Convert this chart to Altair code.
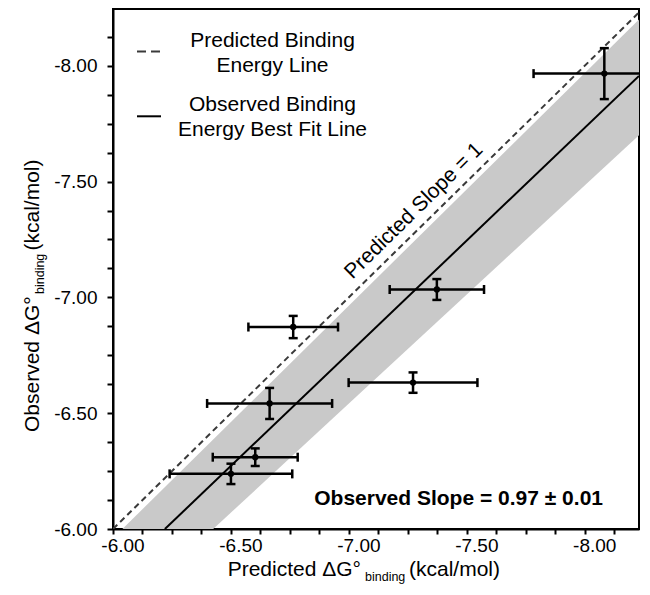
import altair as alt
import pandas as pd

# ---- data ----
pred = [-6.500, -6.603, -6.664, -6.764, -7.272, -7.373, -8.083]
obs = [-6.238, -6.310, -6.542, -6.872, -6.632, -7.034, -7.966]
pred_err = [0.26, 0.18, 0.265, 0.19, 0.273, 0.20, 0.30]
obs_err = [0.044, 0.038, 0.067, 0.048, 0.044, 0.045, 0.11]

ideal_x = [-6.0, -8.245]
ideal_y = [-6.0, -8.245]
fit_x = [-6.22, -8.23]
fit_y = [-6.00, -7.956]
band_x = [-6.0, -8.23]
band_upper = [-5.96, -8.20]
band_lower = [-5.60, -7.70]

tick_values = [-6.0, -6.125, -6.25, -6.375, -6.5, -6.625, -6.75, -6.875,
               -7.0, -7.125, -7.25, -7.375, -7.5, -7.625, -7.75, -7.875,
               -8.0, -8.125]

slope_label = "Predicted Slope = 1"
slope_label_x = [-7.276]
slope_label_y = [-7.373]
obs_slope_text = "Observed Slope = 0.97 \u00b1 0.01"

FONT = "Liberation Sans"

pts = pd.DataFrame({"pred": pred, "obs": obs, "pe": pred_err, "oe": obs_err})
pts["xlo"] = pts["pred"] + pts["pe"]
pts["xhi"] = pts["pred"] - pts["pe"]
pts["ylo"] = pts["obs"] + pts["oe"]
pts["yhi"] = pts["obs"] - pts["oe"]

ideal = pd.DataFrame({"x": ideal_x, "y": ideal_y})
fit = pd.DataFrame({"x": fit_x, "y": fit_y})
band = pd.DataFrame({"x": band_x, "yu": band_upper, "yl": band_lower})
lab = pd.DataFrame({"x": slope_label_x, "y": slope_label_y, "t": [slope_label]})
dummy = pd.DataFrame({"d": [0]})

xs = alt.Scale(domain=[-8.23, -6.0], reverse=True, nice=False, zero=False)
ys = alt.Scale(domain=[-8.245, -6.0], reverse=True, nice=False, zero=False)

label_expr = ("abs(datum.value*2 - round(datum.value*2)) < 0.001 ? "
              "'-' + format(abs(datum.value), '.2f') : ''")

x_axis = alt.Axis(values=tick_values, labelExpr=label_expr, title=None, grid=False,
                  tickSize=5, tickWidth=2, tickColor="black", domainColor="black",
                  domainWidth=2, labelFont=FONT, labelFontSize=19, labelColor="black",
                  labelPadding=2, labelOffset=9.5, labelFlush=False, labelOverlap=False)
y_axis = alt.Axis(values=tick_values, labelExpr=label_expr, title=None, grid=False,
                  tickSize=6, tickWidth=2, tickColor="black", domainColor="black",
                  domainWidth=2, labelFont=FONT, labelFontSize=19, labelColor="black",
                  labelPadding=10, labelFlush=False, labelOverlap=False)


def X(f):
    return alt.X(f, type="quantitative", scale=xs, axis=x_axis)


def Y(f):
    return alt.Y(f, type="quantitative", scale=ys, axis=y_axis)


band_layer = alt.Chart(band).mark_area(color="#c9c9c9", clip=True).encode(
    x=X("x"), y=Y("yu"), y2="yl")

ideal_layer = alt.Chart(ideal).mark_line(color="#3a3a3a", strokeWidth=2,
                                         strokeDash=[6, 4], clip=True).encode(
    x=X("x"), y=Y("y"))

fit_layer = alt.Chart(fit).mark_line(color="black", strokeWidth=2, clip=True).encode(
    x=X("x"), y=Y("y"))

xerr = alt.Chart(pts).mark_rule(color="black", strokeWidth=2.5, clip=True).encode(
    x=X("xlo"), x2="xhi", y=Y("obs"))
yerr = alt.Chart(pts).mark_rule(color="black", strokeWidth=2.5, clip=True).encode(
    x=X("pred"), y=Y("ylo"), y2="yhi")
cap_xlo = alt.Chart(pts).mark_tick(orient="vertical", size=9, thickness=2.5,
                                   color="black", opacity=1, clip=True).encode(
    x=X("xlo"), y=Y("obs"))
cap_xhi = alt.Chart(pts).mark_tick(orient="vertical", size=9, thickness=2.5,
                                   color="black", opacity=1, clip=True).encode(
    x=X("xhi"), y=Y("obs"))
cap_ylo = alt.Chart(pts).mark_tick(orient="horizontal", size=9, thickness=2.5,
                                   color="black", opacity=1, clip=True).encode(
    x=X("pred"), y=Y("ylo"))
cap_yhi = alt.Chart(pts).mark_tick(orient="horizontal", size=9, thickness=2.5,
                                   color="black", opacity=1, clip=True).encode(
    x=X("pred"), y=Y("yhi"))
points = alt.Chart(pts).mark_point(filled=True, size=40, color="black", opacity=1).encode(
    x=X("pred"), y=Y("obs"))

slope_text = alt.Chart(lab).mark_text(angle=315.5, fontSize=21, font=FONT, color="black",
                                      align="center", baseline="middle").encode(
    x=X("x"), y=Y("y"), text="t:N")


def vtext(s, x, y, size, align="center", baseline="alphabetic", angle=0, weight="normal"):
    kw = dict(fontSize=size, font=FONT, color="black", align=align, baseline=baseline,
              fontWeight=weight)
    if angle:
        kw["angle"] = angle
    return alt.Chart(dummy).mark_text(**kw).encode(
        x=alt.value(x), y=alt.value(y), text=alt.value(s))


def vrule(x1, x2, y, dash=None):
    kw = dict(color="black", strokeWidth=2)
    if dash:
        kw["strokeDash"] = dash
        kw["color"] = "#3a3a3a"
    return alt.Chart(dummy).mark_rule(**kw).encode(
        x=alt.value(x1), x2=alt.value(x2), y=alt.value(y))


legend = [
    vrule(24, 48, 42.5, dash=[9, 5]),
    vrule(24, 48, 107.3),
    vtext("Predicted Binding", 159.5, 37.6, 21),
    vtext("Energy Line", 159.5, 63.4, 21),
    vtext("Observed Binding", 159.5, 101.6, 21),
    vtext("Energy Best Fit Line", 159.5, 126.5, 21),
    vtext(obs_slope_text, 490, 495.5, 21, align="right", weight="bold"),
]

titles = [
    vtext("Predicted \u0394G\u00b0", 248, 567, 21, align="right"),
    vtext("binding", 252, 572, 12.5, align="left"),
    vtext("(kcal/mol)", 296, 567, 21, align="left"),
    vtext("Observed \u0394G\u00b0", -74, 423, 21, align="left", angle=270),
    vtext("binding", -69, 285, 12.5, align="left", angle=270),
    vtext("(kcal/mol)", -74, 241.5, 21, align="left", angle=270),
]

chart = alt.layer(
    band_layer, ideal_layer, fit_layer, xerr, yerr, cap_xlo, cap_xhi, cap_ylo, cap_yhi,
    points, slope_text, *legend, *titles
).properties(
    width=526, height=520,
    padding={"left": 105, "top": 1, "right": 1, "bottom": 57},
    autosize=alt.AutoSizeParams(type="none"),
).configure_view(stroke="black", strokeWidth=2)

chart.save("out.html", embed_options={"renderer": "svg", "actions": False})
